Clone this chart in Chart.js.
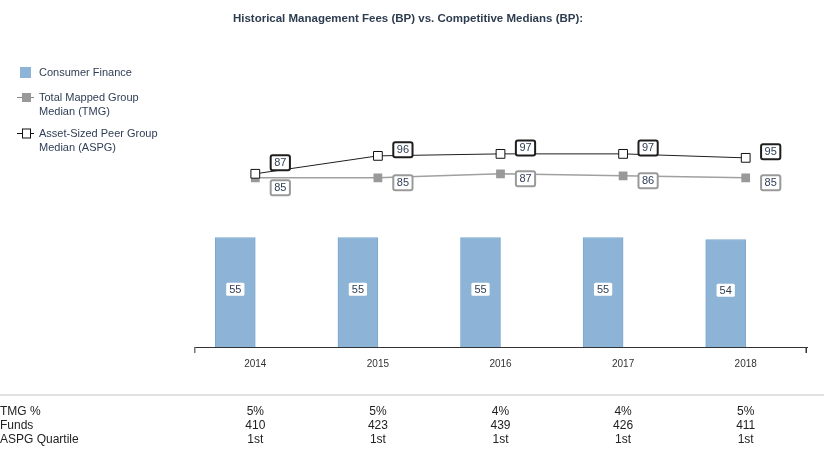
<!DOCTYPE html>
<html>
<head>
<meta charset="utf-8">
<script src="https://cdn.jsdelivr.net/npm/chart.js@4.4.1/dist/chart.umd.min.js"></script>
<style>
  html, body { margin: 0; padding: 0; background: #fff; }
  #wrap { position: relative; width: 824px; height: 452px; }
</style>
</head>
<body>
<div id="wrap"><canvas id="feeChart"></canvas></div>
<script>
// data
const years = ['2014', '2015', '2016', '2017', '2018'];
const consumerFinance = [55, 55, 55, 55, 54];
const tmgMedian = [85, 85, 87, 86, 85];
const aspgMedian = [87, 96, 97, 97, 95];
const tmgPct = ['5%', '5%', '4%', '4%', '5%'];
const funds = ['410', '423', '439', '426', '411'];
const aspgQuartile = ['1st', '1st', '1st', '1st', '1st'];

const titleText = 'Historical Management Fees (BP) vs. Competitive Medians (BP):';
const tableRows = [
    ['TMG %', tmgPct],
    ['Funds', funds],
    ['ASPG Quartile', aspgQuartile]
];

const FONT = '"Liberation Sans", Arial, sans-serif';
const BAR_COLOR = '#8db4d7';
const TMG_COLOR = '#a0a0a0';
const ASPG_COLOR = '#1e1e1e';
const TEXT_NAVY = '#2f3e55';

function box(ctx, x, y, w, h, r) {
    ctx.beginPath();
    if (ctx.roundRect) ctx.roundRect(x, y, w, h, r);
    else ctx.rect(x, y, w, h);
}

// value labels on bars and line points
const valueLabels = {
    id: 'valueLabels',
    afterDatasetsDraw(chart) {
        const ctx = chart.ctx;
        ctx.save();
        ctx.font = '11px ' + FONT;
        ctx.textAlign = 'center';
        ctx.textBaseline = 'middle';

        // bars
        const barMeta = chart.getDatasetMeta(0);
        barMeta.data.forEach((bar, i) => {
            const txt = String(consumerFinance[i]);
            const w = ctx.measureText(txt).width + 6;
            const cy = (bar.y + bar.base) / 2 - 3;
            ctx.fillStyle = '#ffffff';
            box(ctx, bar.x - w / 2, cy - 6.5, w, 13, 1.5);
            ctx.fill();
            ctx.fillStyle = TEXT_NAVY;
            ctx.fillText(txt, bar.x, cy + 0.5);
        });

        // line labels, pushed apart when they would collide
        const tmgMeta = chart.getDatasetMeta(2);
        const aspgMeta = chart.getDatasetMeta(3);
        tmgMeta.data.forEach((pt, i) => {
            const ap = aspgMeta.data[i];
            let yA = ap.y - 6;
            let yT = pt.y + 5;
            if (yT - yA < 25) {
                const mid = (yA + yT) / 2;
                yA = mid - 12.5;
                yT = mid + 12.5;
            }
            [[ap.x, yA, aspgMedian[i], ASPG_COLOR], [pt.x, yT, tmgMedian[i], '#9a9a9a']].forEach(([x, y, v, col]) => {
                const txt = String(v);
                const w = ctx.measureText(txt).width + 7;
                const cx = x + 25;
                ctx.fillStyle = '#ffffff';
                ctx.strokeStyle = col;
                ctx.lineWidth = 2;
                box(ctx, cx - w / 2, y - 7.5, w, 15, 2);
                ctx.fill();
                ctx.stroke();
                ctx.fillStyle = TEXT_NAVY;
                ctx.fillText(txt, cx, y + 0.5);
            });
        });
        ctx.restore();
    }
};

// title, legend, axis end ticks and the table under the chart
const overlay = {
    id: 'overlay',
    afterDraw(chart) {
        const ctx = chart.ctx;
        const xs = chart.scales.x;
        const area = chart.chartArea;
        ctx.save();

        ctx.font = 'bold 11.5px ' + FONT;
        ctx.fillStyle = '#2e3c50';
        ctx.textAlign = 'center';
        ctx.textBaseline = 'middle';
        ctx.fillText(titleText, 408, 19);

        // small ticks at both ends of the x axis
        ctx.lineWidth = 1.5;
        ctx.strokeStyle = '#777';
        ctx.beginPath();
        ctx.moveTo(area.left + 0.75, area.bottom);
        ctx.lineTo(area.left + 0.75, area.bottom + 6);
        ctx.stroke();
        ctx.strokeStyle = '#333';
        ctx.beginPath();
        ctx.moveTo(area.right - 0.75, area.bottom);
        ctx.lineTo(area.right - 0.75, area.bottom + 6);
        ctx.stroke();

        // legend
        ctx.font = '11px ' + FONT;
        ctx.textAlign = 'left';
        ctx.fillStyle = BAR_COLOR;
        ctx.fillRect(20, 67, 11, 11);
        ctx.fillStyle = TEXT_NAVY;
        ctx.fillText('Consumer Finance', 39, 72.5);

        ctx.lineWidth = 1;
        ctx.strokeStyle = '#888';
        ctx.beginPath();
        ctx.moveTo(17, 97.5); ctx.lineTo(34, 97.5);
        ctx.stroke();
        ctx.fillStyle = '#999';
        ctx.fillRect(22, 93, 9, 9);
        ctx.fillStyle = TEXT_NAVY;
        ctx.fillText('Total Mapped Group', 39, 97.5);
        ctx.fillText('Median (TMG)', 39, 111.5);

        ctx.strokeStyle = '#111';
        ctx.beginPath();
        ctx.moveTo(17, 133.5); ctx.lineTo(34, 133.5);
        ctx.stroke();
        ctx.fillStyle = '#fff';
        ctx.fillRect(22.5, 129, 8, 9);
        ctx.strokeRect(22.5, 129, 8, 9);
        ctx.fillStyle = TEXT_NAVY;
        ctx.fillText('Asset-Sized Peer Group', 39, 133.5);
        ctx.fillText('Median (ASPG)', 39, 147.5);

        // table
        ctx.strokeStyle = '#e2e2e2';
        ctx.lineWidth = 2;
        ctx.beginPath();
        ctx.moveTo(0, 395); ctx.lineTo(chart.width, 395);
        ctx.stroke();

        ctx.font = '12px ' + FONT;
        ctx.fillStyle = '#222';
        tableRows.forEach(([name, vals], r) => {
            const y = 411.5 + r * 14;
            ctx.textAlign = 'left';
            ctx.fillText(name, 0, y);
            ctx.textAlign = 'center';
            vals.forEach((v, i) => ctx.fillText(v, xs.getPixelForValue(i), y));
        });
        ctx.restore();
    }
};

const ctx = document.getElementById('feeChart').getContext('2d');
window.feeChart = new Chart(ctx, {
    type: 'bar',
    data: {
        labels: years,
        datasets: [
            {
                label: 'Consumer Finance',
                data: consumerFinance,
                backgroundColor: BAR_COLOR,
                borderColor: '#7ea8cf',
                borderWidth: 1,
                barThickness: 40,
                order: 3
            },
            {
                label: '',
                data: years.map(() => null),
                barThickness: 40,
                order: 4
            },
            {
                type: 'line',
                label: 'Total Mapped Group Median (TMG)',
                data: tmgMedian,
                borderColor: TMG_COLOR,
                borderWidth: 1.5,
                pointStyle: 'rect',
                pointRadius: 6.2,
                pointBackgroundColor: '#999',
                pointBorderColor: '#999',
                pointBorderWidth: 0,
                order: 2
            },
            {
                type: 'line',
                label: 'Asset-Sized Peer Group Median (ASPG)',
                data: aspgMedian,
                borderColor: ASPG_COLOR,
                borderWidth: 1,
                pointStyle: 'rect',
                pointRadius: 6.2,
                pointBackgroundColor: '#fff',
                pointBorderColor: '#111',
                pointBorderWidth: 1,
                order: 1
            }
        ]
    },
    options: {
        responsive: true,
        maintainAspectRatio: false,
        animation: false,
        layout: {
            padding: { left: 194, right: 17, top: 128, bottom: 71 }
        },
        plugins: {
            legend: { display: false },
            title: { display: false },
            tooltip: { enabled: false }
        },
        scales: {
            x: {
                grid: { display: false, drawTicks: false },
                border: { display: true, color: '#333', width: 1 },
                ticks: {
                    padding: 11,
                    color: '#333',
                    font: { size: 10, family: FONT }
                }
            },
            y: {
                display: false,
                min: 0,
                max: 110
            }
        }
    },
    plugins: [valueLabels, overlay]
});
</script>
</body>
</html>
